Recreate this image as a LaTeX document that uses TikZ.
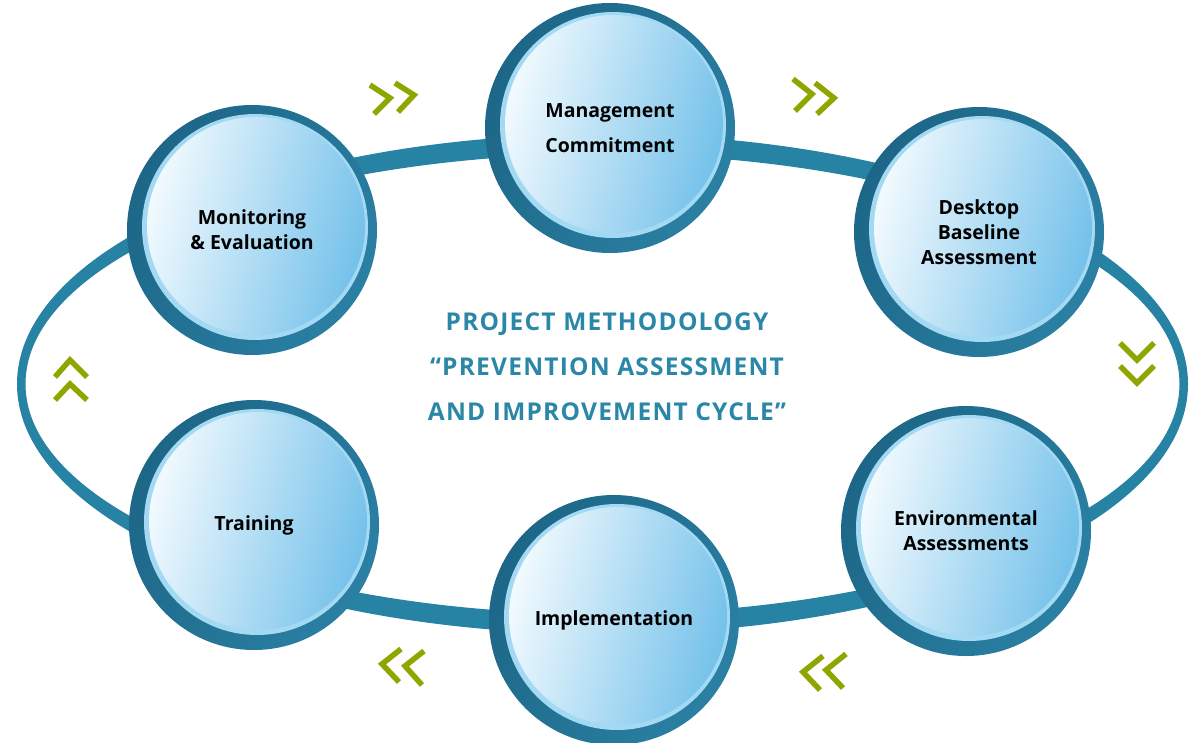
\documentclass[tikz,border=0pt]{standalone}
\usepackage{fontspec}
\newfontfamily\bubblefont{Open Sans}
\newfontfamily\titlefont{Open Sans}[LetterSpace=5.0]
\definecolor{ringc}{HTML}{2683A3}
\definecolor{rimdark}{HTML}{1D6687}
\definecolor{rimmid}{HTML}{2A80A3}
\definecolor{rimlight}{HTML}{A4D9F3}
\definecolor{sphL}{HTML}{F2FAFE}
\definecolor{sphM}{HTML}{AEDDF5}
\definecolor{sphR}{HTML}{74C1EA}
\definecolor{chevc}{HTML}{8FA600}
\definecolor{titlec}{HTML}{2B87A8}
\begin{document}
\begin{tikzpicture}[x=1pt,y=-1pt,
  bubble/.style={circle, inner sep=0pt, minimum size=250pt, align=center,
    font=\bubblefont\bfseries\fontsize{19.5}{25}\selectfont, text=black,
    left color=rimdark, right color=rimmid, shading angle=60,
    path picture={
      \fill[rimlight] ([xshift=3pt,yshift=3pt]path picture bounding box.center) circle (113pt);
      \shade[left color=sphL, middle color=sphM, right color=sphR, shading angle=75]
        ([xshift=4pt,yshift=4pt]path picture bounding box.center) circle (109pt);
    }},
  chev/.style={draw=chevc, line width=5.5pt, miter limit=10},
  titletext/.style={font=\titlefont\bfseries\fontsize{24.5}{45}\selectfont, text=titlec, align=center}
]
\useasboundingbox (0,0) rectangle (1189,742);
% cycle ring
\fill[ringc, even odd rule] (602.5,384) ellipse [x radius=585.5, y radius=250]
                            (602.5,384) ellipse [x radius=577, y radius=230];
% chevrons
\draw[chev] (370,85) -- (390,98) -- (374,114);
\draw[chev] (395,83) -- (414,95) -- (398,112);
\draw[chev] (793,79) -- (812,94) -- (795,111);
\draw[chev] (815,83) -- (834,98) -- (817,114);
\draw[chev] (1120,343) -- (1137,360) -- (1154,343);
\draw[chev] (1120,366) -- (1137,383) -- (1154,366);
\draw[chev] (55,377) -- (70,360) -- (87,377);
\draw[chev] (55,400) -- (70,384) -- (87,400);
\draw[chev] (401,649) -- (382,664) -- (399,682);
\draw[chev] (424,651) -- (405,666) -- (422,685);
\draw[chev] (823,656) -- (803,672) -- (820,690);
\draw[chev] (846,654) -- (826,670) -- (843,688);
% bubbles
\node[bubble] (mc) at (610,128) {Management\\[10pt]Commitment};
\node[bubble] (me) at (252,230) {Monitoring\\\& Evaluation};
\node[bubble] (db) at (979,232) {Desktop\\Baseline\\Assessment};
\node[bubble] (tr) at (254,525) {Training};
\node[bubble] (im) at (614,620) {Implementation};
\node[bubble] (ea) at (966,531) {Environmental\\Assessments};
% title
\node[titletext] (title) at (607,367) {PROJECT METHODOLOGY\\“PREVENTION ASSESSMENT\\AND IMPROVEMENT CYCLE”};
\end{tikzpicture}
\end{document}
